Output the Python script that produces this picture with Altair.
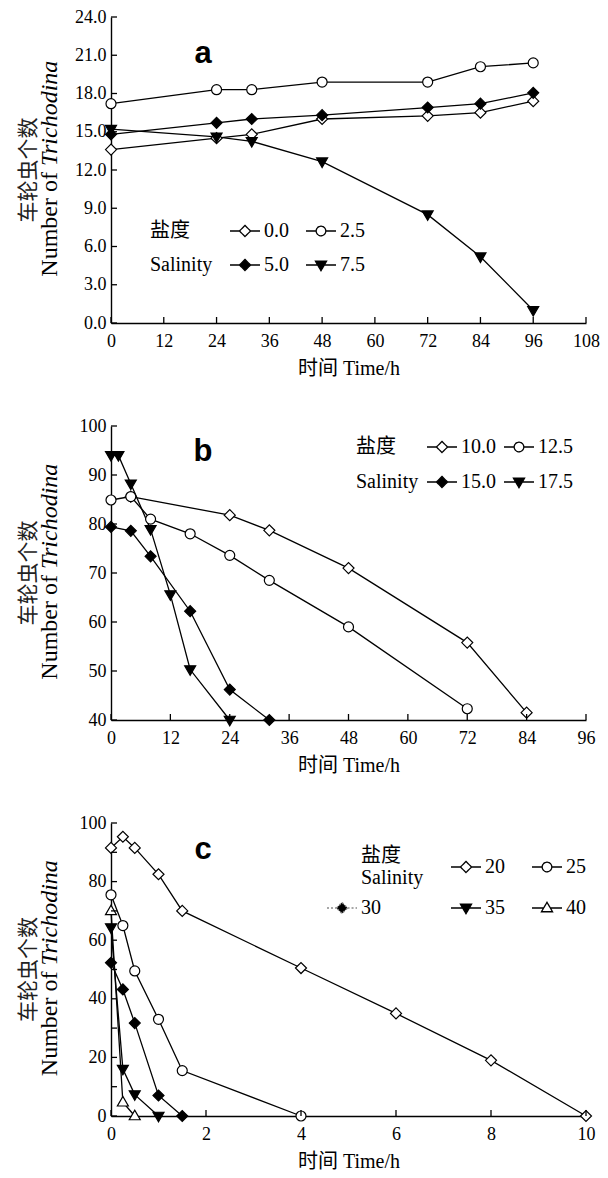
import altair as alt
import pandas as pd

SERIF = "Liberation Serif, Times New Roman, DejaVu Serif, Noto Sans CJK SC, serif"
CJK = "Noto Sans CJK SC"

# ---------------- panel a (salinity 0-7.5) ----------------
a_names = ["0.0", "2.5", "5.0", "7.5"]
a_kinds = ["od", "oc", "fd", "ftd"]
a_time = [0, 24, 32, 48, 72, 84, 96]
a_s00 = [13.6, 14.5, 14.8, 16.0, 16.25, 16.5, 17.4]
a_s25 = [17.2, 18.3, 18.3, 18.9, 18.9, 20.1, 20.4]
a_s50 = [14.8, 15.7, 16.0, 16.3, 16.9, 17.2, 18.05]
a_s75 = [15.2, 14.6, 14.25, 12.65, 8.5, 5.2, 1.0]
a_xticks = [0, 12, 24, 36, 48, 60, 72, 84, 96, 108]
a_yticks = [0, 3, 6, 9, 12, 15, 18, 21, 24]

# ---------------- panel b (salinity 10-17.5) ----------------
b_names = ["10.0", "12.5", "15.0", "17.5"]
b_kinds = ["od", "oc", "fd", "ftd"]
b_t100 = [4, 24, 32, 48, 72, 84]
b_s100 = [85.6, 81.8, 78.7, 71.0, 55.8, 41.5]
b_t125 = [0, 4, 8, 16, 24, 32, 48, 72]
b_s125 = [84.9, 85.6, 81.0, 78.0, 73.6, 68.5, 59.0, 42.3]
b_t150 = [0, 4, 8, 16, 24, 32]
b_s150 = [79.4, 78.6, 73.4, 62.2, 46.2, 40.0]
b_t175 = [0, 1.5, 4, 8, 12, 16, 24]
b_s175 = [94.0, 94.0, 88.2, 78.9, 65.6, 50.3, 40.0]
b_xticks = [0, 12, 24, 36, 48, 60, 72, 84, 96]
b_yticks = [40, 50, 60, 70, 80, 90, 100]

# ---------------- panel c (salinity 20-40) ----------------
c_names = ["20", "25", "30", "35", "40"]
c_kinds = ["od", "oc", "fd", "ftd", "otu"]
c_t20 = [0, 0.25, 0.5, 1, 1.5, 4, 6, 8, 10]
c_s20 = [91.5, 95.3, 91.5, 82.5, 70.0, 50.5, 35.0, 19.0, 0.0]
c_t25 = [0, 0.25, 0.5, 1, 1.5, 4]
c_s25 = [75.5, 65.0, 49.5, 33.0, 15.5, 0.0]
c_t30 = [0, 0.25, 0.5, 1, 1.5]
c_s30 = [52.3, 43.2, 31.7, 7.0, 0.0]
c_t35 = [0, 0.25, 0.5, 1]
c_s35 = [64.3, 16.0, 7.3, 0.0]
c_t40 = [0, 0.25, 0.5]
c_s40 = [70.0, 4.7, 0.0]
c_xticks = [0, 2, 4, 6, 8, 10]
c_ylabels = [0, 20, 40, 60, 80, 100]
c_yticks = [0, 10, 20, 30, 40, 50, 60, 70, 80, 90, 100]

# ---------------- marker styles ----------------
DIAMOND = "M-1.1,0L0,-1.1L1.1,0L0,1.1Z"
TRI_DOWN = "M-1.1,-0.75L1.1,-0.75L0,1.15Z"
TRI_UP = "M-1.1,0.75L1.1,0.75L0,-1.15Z"
PLOT_SHAPE = {"od": DIAMOND, "oc": "circle", "fd": DIAMOND, "ftd": TRI_DOWN, "otu": TRI_UP}
FILL = {"od": "white", "oc": "white", "fd": "black", "fdg": "black", "ftd": "black", "otu": "white",
        "none": "transparent"}
STROKE = {"od": "black", "oc": "black", "fd": "black", "fdg": "#8a8a8a", "ftd": "black", "otu": "black",
          "none": "transparent"}
DASH = {"fdg": [2, 2]}
LEG_SHAPE = {
    "od": "M-1,0H-0.37M0.37,0H1M-0.37,0L0,-0.37L0.37,0L0,0.37Z",
    "oc": "M-1,0H-0.32M0.32,0H1M-0.32,0A0.32,0.32,0,1,0,0.32,0A0.32,0.32,0,1,0,-0.32,0Z",
    "fd": "M-1,0H-0.37M0.37,0H1M-0.37,0L0,-0.37L0.37,0L0,0.37Z",
    "fdg": "M-1,0H-0.37M0.37,0H1M-0.37,0L0,-0.37L0.37,0L0,0.37Z",
    "ftd": "M-1,0H-0.2M0.2,0H1M-0.37,-0.25L0.37,-0.25L0,0.38Z",
    "otu": "M-1,0H-0.22M0.22,0H1M-0.37,0.25L0.37,0.25L0,-0.38Z",
    "none": "M0,0",
}

NB = "\u00a0"


def make_df(names, times, values):
    rows = []
    for n, ts, vs in zip(names, times, values):
        for t, v in zip(ts, vs):
            rows.append({"s": n, "t": t, "v": v})
    return pd.DataFrame(rows)


def panel(df, names, kinds, x_dom, x_ticks, y_dom, y_labels, y_ticks, y_fmt,
          leg_domain, leg_kinds, label_expr, leg_cols, leg_x, leg_y, col_pad, row_pad,
          letter, letter_x, letter_y, W, H):
    xscale = alt.Scale(domain=x_dom, nice=False, zero=False)
    yscale = alt.Scale(domain=y_dom, nice=False, zero=False)
    xaxis = alt.Axis(values=x_ticks, ticks=False, grid=False, labelPadding=9,
                     titlePadding=8, format="d", labelFlush=False)
    yaxis = alt.Axis(values=y_labels, ticks=False, grid=False, labelPadding=5,
                     format=y_fmt, labelFlush=False)
    xtitle = "时间 Time/h"
    X = alt.X("t:Q", scale=xscale, axis=xaxis, title=xtitle)
    Y = alt.Y("v:Q", scale=yscale, axis=yaxis, title=None)
    base = alt.Chart(df)
    lines = base.mark_line(color="black", strokeWidth=1.3).encode(x=X, y=Y, detail="s:N")
    pts = base.mark_point(filled=True, size=100, stroke="black", strokeWidth=1.2, opacity=1).encode(
        x=X, y=Y,
        shape=alt.Shape("s:N", scale=alt.Scale(domain=names, range=[PLOT_SHAPE[k] for k in kinds]), legend=None),
        fill=alt.Fill("s:N", scale=alt.Scale(domain=names, range=[FILL[k] for k in kinds]), legend=None),
    )
    leg = alt.Legend(
        orient="none", legendX=leg_x, legendY=leg_y, columns=leg_cols, direction="horizontal",
        title=None, symbolSize=900, symbolStrokeWidth=1.3,
        labelFont=SERIF, labelFontSize=20, labelColor="black", labelOffset=3,
        columnPadding=col_pad, rowPadding=row_pad, padding=0, labelExpr=label_expr,
    )
    legl = base.mark_point(filled=True, size=0, strokeWidth=1.3, opacity=1).encode(
        x=X, y=Y,
        shape=alt.Shape("s:N", scale=alt.Scale(domain=leg_domain, range=[LEG_SHAPE[k] for k in leg_kinds]), legend=leg),
        fill=alt.Fill("s:N", scale=alt.Scale(domain=leg_domain, range=[FILL[k] for k in leg_kinds]), legend=leg),
        stroke=alt.Stroke("s:N", scale=alt.Scale(domain=leg_domain, range=[STROKE[k] for k in leg_kinds]), legend=leg),
        strokeDash=alt.StrokeDash("s:N", scale=alt.Scale(domain=leg_domain,
                                  range=[DASH.get(k, [1, 0]) for k in leg_kinds]), legend=leg),
    )
    xt = alt.Chart(pd.DataFrame({"v": x_ticks})).mark_tick(
        orient="vertical", size=6, thickness=1.3, color="black", yOffset=-3, opacity=1
    ).encode(
        x=alt.X("v:Q", scale=xscale, axis=xaxis, title=xtitle),
        y=alt.YDatum(y_dom[0], type="quantitative", scale=yscale, axis=yaxis, title=None),
    )
    yt = alt.Chart(pd.DataFrame({"v": y_ticks})).mark_tick(
        orient="horizontal", size=6, thickness=1.3, color="black", xOffset=3, opacity=1
    ).encode(
        y=alt.Y("v:Q", scale=yscale, axis=yaxis, title=None),
        x=alt.XDatum(x_dom[0], type="quantitative", scale=xscale, axis=xaxis, title=xtitle),
    )
    let = alt.Chart(pd.DataFrame({"txt": [letter]})).mark_text(
        font="Liberation Sans", fontWeight="bold", fontSize=31, align="center",
        baseline="alphabetic", color="black"
    ).encode(x=alt.value(letter_x), y=alt.value(letter_y), text="txt:N")
    yt_cn = alt.Chart(pd.DataFrame({"txt": ["车轮虫个数"]})).mark_text(
        font=CJK, fontSize=21, angle=270, align="center", baseline="middle", color="#222"
    ).encode(x=alt.value(-82), y=alt.value(H / 2), text="txt:N")
    yt_en1 = alt.Chart(pd.DataFrame({"txt": ["Number of"]})).mark_text(
        font=SERIF, fontSize=24, angle=270, align="right", baseline="middle", color="black"
    ).encode(x=alt.value(-61), y=alt.value(H / 2 + 2), text="txt:N")
    yt_en2 = alt.Chart(pd.DataFrame({"txt": ["Trichodina"]})).mark_text(
        font=SERIF, fontStyle="italic", fontSize=24, angle=270, align="left",
        baseline="middle", color="black"
    ).encode(x=alt.value(-61), y=alt.value(H / 2 - 4), text="txt:N")
    return alt.layer(lines, pts, legl, xt, yt, let, yt_cn, yt_en1, yt_en2).resolve_scale(
        shape="independent", fill="independent", stroke="independent", strokeDash="independent"
    ).properties(width=W, height=H)


W = 475

df_a = make_df(a_names, [a_time] * 4, [a_s00, a_s25, a_s50, a_s75])
df_b = make_df(b_names, [b_t100, b_t125, b_t150, b_t175], [b_s100, b_s125, b_s150, b_s175])
df_c = make_df(c_names, [c_t20, c_t25, c_t30, c_t35, c_t40], [c_s20, c_s25, c_s30, c_s35, c_s40])

expr_ab = f"datum.label == 'D1' ? '{NB}{NB}盐度' : datum.label == 'D2' ? 'Salinity' : datum.label"
expr_c = f"datum.label == 'D1' ? ['{NB}{NB}{NB}盐度', 'Salinity'] : datum.label"

pa = panel(df_a, a_names, a_kinds, [0, 108], a_xticks, [0, 24], a_yticks, a_yticks, ".1f",
           ["D1", "0.0", "2.5", "D2", "5.0", "7.5"], ["none", "od", "oc", "none", "fd", "ftd"],
           expr_ab, 3, 4, 198, 14, 8, "a", 92, 46, W, 306)
pb = panel(df_b, b_names, b_kinds, [0, 96], b_xticks, [40, 100], b_yticks, b_yticks, "d",
           ["D1", "10.0", "12.5", "D2", "15.0", "17.5"], ["none", "od", "oc", "none", "fd", "ftd"],
           expr_ab, 3, 210, 5, 5, 9, "b", 92, 35, W, 294)
pc = panel(df_c, c_names, c_kinds, [0, 10], c_xticks, [0, 100], c_ylabels, c_yticks, "d",
           ["D1", "20", "25", "30", "35", "40"], ["none", "od", "oc", "fdg", "ftd", "otu"],
           expr_c, 3, 215, 17, 24, 4, "c", 92, 36, W, 293)

chart = alt.vconcat(pa, pb, pc, spacing=39).resolve_scale(
    x="independent", y="independent", shape="independent", fill="independent",
    stroke="independent", strokeDash="independent"
).properties(
    padding={"left": 10, "top": 0, "right": 0, "bottom": 0}
).configure_view(stroke=None).configure_axis(
    domainColor="black", domainWidth=1.4, labelFont=SERIF, labelFontSize=18,
    labelColor="black", titleFont=SERIF, titleFontSize=20, titleFontWeight="normal", titleColor="black"
)

chart.save("out.html", embed_options={"renderer": "svg", "actions": False})
